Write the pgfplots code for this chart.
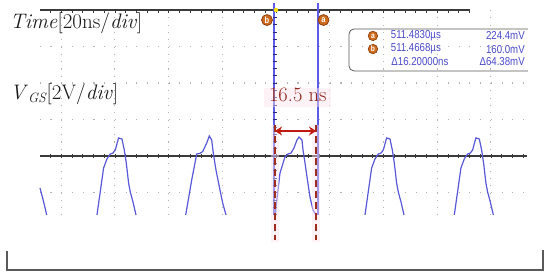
\documentclass[border=0pt]{standalone}
\usepackage{fontspec}
\usepackage{pgfplots}
\pgfplotsset{compat=1.18}
\usetikzlibrary{arrows.meta}
\newfontfamily\boxfont[FakeStretch=0.84]{Liberation Sans}
\definecolor{wave}{HTML}{5858D8}
\definecolor{cursorc}{HTML}{5C5CE8}
\definecolor{gridc}{HTML}{B4B4B4}
\definecolor{axc}{HTML}{3A3A3A}
\definecolor{darkred}{HTML}{8E2418}
\definecolor{arrowred}{HTML}{C01A10}
\definecolor{dashred}{HTML}{9E2C1C}
\definecolor{pinkbg}{HTML}{FDE2EC}
\definecolor{markc}{HTML}{CC6A1E}
\definecolor{markedge}{HTML}{8A3A08}
\definecolor{boxtext}{HTML}{4A4ACB}
\definecolor{bracketc}{HTML}{5A5A5A}
\begin{document}
\begin{tikzpicture}
\begin{axis}[width=550pt,height=279pt,scale only axis,hide axis,clip=false,
  xmin=-102.79,xmax=102.05,ymin=-6.740,ymax=8.548]
% dotted graticule
\pgfplotsinvokeforeach{6,4,2,-2}{
  \draw[gridc,line width=1.1pt,dash pattern=on 1.1pt off 9.64pt] (axis cs:-88,#1) -- (axis cs:93.5,#1);}
\pgfplotsinvokeforeach{-80,-60,-40,-20,20,40,60,80}{
  \draw[gridc,line width=1.1pt,dash pattern=on 1.1pt off 6.2pt] (axis cs:#1,8) -- (axis cs:#1,-3.23);}
% top line and centre line with ticks
\draw[axc,line width=1.2pt] (axis cs:-87.9,8) -- (axis cs:72.3,8);
\pgfplotsinvokeforeach{-84,-80,...,72}{
  \draw[axc,line width=0.6pt] (axis cs:#1,8) -- (axis cs:#1,7.86);}
\draw[axc,line width=1.1pt] (axis cs:-87.9,0) -- (axis cs:93.5,0);
\pgfplotsinvokeforeach{-84,-80,...,92}{
  \draw[axc,line width=0.6pt] (axis cs:#1,-0.12) -- (axis cs:#1,0.12);}
% waveform
\addplot[wave,line width=1.2pt] coordinates {(-87.9,-1.75)(-87.52,-1.97)(-86.52,-2.52)(-85.40,-3.23)};
\addplot[wave,line width=1.2pt] coordinates {(-66.67,-3.23)(-64.21,-0.66)(-62.95,-0.16)(-61.72,0.11)(-60.71,0.16)(-59.85,0.33)(-58.63,0.99)(-57.36,0.93)(-56.50,0.33)(-55.76,-0.38)(-54.90,-1.48)(-54.27,-1.97)(-53.26,-2.52)(-52.14,-3.23)};
\addplot[wave,line width=1.2pt] coordinates {(-33.63,-3.23)(-31.40,-1.32)(-29.53,0.11)(-28.31,0.15)(-27.30,0.24)(-25.81,0.71)(-24.84,1.10)(-23.95,0.88)(-23.35,0.15)(-22.35,-0.77)(-20.86,-1.86)(-19.85,-2.58)(-18.62,-3.23)};
\addplot[wave,line width=1.2pt] coordinates {(-0.19,-3.23)(0,-2.79)(1.49,-0.93)(3.35,-0.05)(4.47,0.11)(5.59,0.16)(6.70,0.44)(7.82,0.88)(8.57,1.04)(9.68,0.88)(10.06,0.33)(10.80,-0.38)(11.55,-1.15)(12.66,-2.25)(13.78,-2.96)(14.90,-3.23)};
\addplot[wave,line width=1.2pt] coordinates {(33.15,-3.23)(35.61,-0.66)(36.87,-0.16)(38.10,0.11)(39.11,0.16)(39.97,0.33)(41.19,0.99)(42.46,0.93)(43.32,0.33)(44.06,-0.38)(44.92,-1.48)(45.55,-1.97)(46.56,-2.52)(47.68,-3.23)};
\addplot[wave,line width=1.2pt] coordinates {(66.41,-3.23)(68.87,-0.66)(70.13,-0.16)(71.36,0.11)(72.37,0.16)(73.23,0.33)(74.45,0.99)(75.72,0.93)(76.58,0.33)(77.32,-0.38)(78.18,-1.48)(78.81,-1.97)(79.82,-2.52)(80.94,-3.23)};
% cursors
\draw[cursorc,line width=1.4pt] (axis cs:-0.7,8.4) -- (axis cs:-0.7,-3.23);
\draw[cursorc,line width=1.4pt] (axis cs:15.6,8.4) -- (axis cs:15.6,-3.23);
\pgfplotsinvokeforeach{7.6,7.2,...,-3.2}{
  \draw[axc!70!blue,line width=0.6pt] (axis cs:-1.3,#1) -- (axis cs:0.3,#1);}
\fill[yellow!80!orange] (axis cs:0,8) circle[radius=2.2pt];
\node[circle,fill=markc,draw=markedge,line width=0.7pt,inner sep=0pt,minimum size=11pt,text=white,font=\boxfont\bfseries\fontsize{9}{9}\selectfont] at (axis cs:-3.35,7.45) {b};
\node[circle,fill=markc,draw=markedge,line width=0.7pt,inner sep=0pt,minimum size=11pt,text=white,font=\boxfont\bfseries\fontsize{9}{9}\selectfont] at (axis cs:17.7,7.45) {a};
% pink highlight
\fill[pinkbg,opacity=0.45] (axis cs:-4.5,3.73) rectangle (axis cs:20.6,2.68);
\fill[pinkbg,opacity=0.45] (axis cs:-1.86,1.70) rectangle (axis cs:1.12,-4.71);
\fill[pinkbg,opacity=0.45] (axis cs:13.4,1.70) rectangle (axis cs:16.4,-4.71);
% red annotation
\draw[dashred,line width=2.8pt,dash pattern=on 7.5pt off 3.5pt] (axis cs:-0.37,1.70) -- (axis cs:-0.37,-4.60);
\draw[dashred,line width=2.8pt,dash pattern=on 7.5pt off 3.5pt] (axis cs:14.9,1.70) -- (axis cs:14.9,-4.60);
\draw[arrowred,line width=2.2pt,{Stealth[length=7pt,width=9pt]}-{Stealth[length=7pt,width=9pt]}] (axis cs:-0.37,1.37) -- (axis cs:14.9,1.37);
\node[anchor=base,inner sep=0pt,text=darkred,font=\fontsize{20.5}{24}\selectfont] at (axis cs:8.1,2.96) {16.5 ns};
% labels
\node[anchor=base west,inner sep=0pt,text=black!90,font=\fontsize{21}{25}\selectfont] at (axis cs:-99.07,7.01) {\textit{Time}[20ns/\textit{div}]};
\node[anchor=base west,inner sep=0pt,text=black!90,font=\fontsize{21}{25}\selectfont] at (axis cs:-99.07,3.07) {\textit{V}\raisebox{-0.12em}{\fontsize{13.5}{14}\selectfont\textit{GS}}[2V/\textit{div}]};
% measurement box
\draw[gray!70!black,line width=0.8pt,rounded corners=5pt] (axis cs:93.85,6.96) -- (axis cs:27.19,6.96) -- (axis cs:27.19,4.66) -- (axis cs:93.85,4.66);
\node[circle,fill=markc,draw=markedge,line width=0.6pt,inner sep=0pt,minimum size=9.5pt,text=white,font=\boxfont\bfseries\fontsize{8}{8}\selectfont] at (axis cs:36.1,6.58) {a};
\node[circle,fill=markc,draw=markedge,line width=0.6pt,inner sep=0pt,minimum size=9.5pt,text=white,font=\boxfont\bfseries\fontsize{8}{8}\selectfont] at (axis cs:36.1,5.86) {b};
\node[anchor=center,inner sep=0pt,text=boxtext,font=\boxfont\fontsize{11.5}{12}\selectfont] at (axis cs:52.1,6.58) {511.4830µs};
\node[anchor=center,inner sep=0pt,text=boxtext,font=\boxfont\fontsize{11.5}{12}\selectfont] at (axis cs:52.1,5.86) {511.4668µs};
\node[anchor=center,inner sep=0pt,text=boxtext,font=\boxfont\fontsize{11.5}{12}\selectfont] at (axis cs:53.6,5.15) {Δ16.20000ns};
\node[anchor=east,inner sep=0pt,text=boxtext,font=\boxfont\fontsize{11.5}{12}\selectfont] at (axis cs:92.7,6.58) {224.4mV};
\node[anchor=east,inner sep=0pt,text=boxtext,font=\boxfont\fontsize{11.5}{12}\selectfont] at (axis cs:92.7,5.86) {160.0mV};
\node[anchor=east,inner sep=0pt,text=boxtext,font=\boxfont\fontsize{11.5}{12}\selectfont] at (axis cs:92.7,5.15) {Δ64.38mV};
% bracket
\draw[bracketc,line width=1.6pt] (axis cs:-100.19,-5.21) -- (axis cs:-100.19,-6.25) -- (axis cs:99.44,-6.25) -- (axis cs:99.44,-5.15);
\end{axis}
\pgfresetboundingbox
\useasboundingbox (current axis.south west) rectangle (current axis.north east);
\end{tikzpicture}
\end{document}
